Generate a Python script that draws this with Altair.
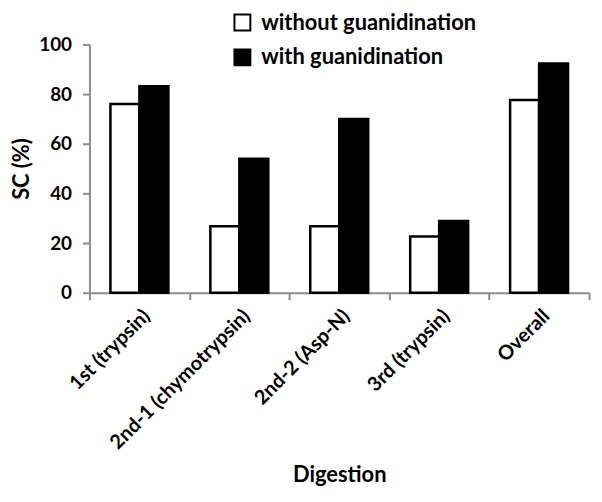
import altair as alt
import pandas as pd

categories = ["1st (trypsin)", "2nd-1 (chymotrypsin)", "2nd-2 (Asp-N)", "3rd (trypsin)", "Overall"]
series = ["without guanidination", "with guanidination"]
without_vals = [76, 26.8, 26.8, 22.6, 77.6]
with_vals = [83.2, 54, 70, 28.9, 92.3]
y_ticks = [0, 20, 40, 60, 80, 100]

rows = []
for c, a, b in zip(categories, without_vals, with_vals):
    rows.append({"Digestion": c, "series": series[0], "SC": a})
    rows.append({"Digestion": c, "series": series[1], "SC": b})
df = pd.DataFrame(rows)

FONT = "Lato"
GRAY = "#8c8c8c"

chart = alt.Chart(df).mark_bar(stroke="black", strokeWidth=2.5).encode(
    x=alt.X(
        "Digestion:N",
        sort=categories,
        scale=alt.Scale(paddingInner=0, paddingOuter=0),
        axis=alt.Axis(
            title="Digestion",
            labelAngle=-45,
            tickBand="extent",
            domainColor=GRAY,
            tickColor=GRAY,
            tickSize=7,
            domainWidth=2,
            tickWidth=2,
            labelFont=FONT,
            labelFontSize=20,
            labelFontWeight="bold",
            labelColor="black",
            labelPadding=6,
            labelLimit=400,
            titleFont=FONT,
            titleFontSize=22,
            titleFontWeight="bold",
            titleColor="black",
            titlePadding=12,
        ),
    ),
    xOffset=alt.XOffset("series:N", sort=series, scale=alt.Scale(paddingInner=0, paddingOuter=0.724)),
    y=alt.Y(
        "SC:Q",
        scale=alt.Scale(domain=[0, 100]),
        axis=alt.Axis(
            title="SC (%)",
            values=y_ticks,
            grid=False,
            domainColor=GRAY,
            tickColor=GRAY,
            domainWidth=2,
            tickWidth=2,
            tickSize=7,
            labelPadding=11,
            labelFont=FONT,
            labelFontSize=19,
            labelFontWeight="bold",
            labelColor="black",
            titleFont=FONT,
            titleFontSize=22,
            titleFontWeight="bold",
            titleColor="black",
            titlePadding=5,
        ),
    ),
    fill=alt.Fill(
        "series:N",
        sort=series,
        scale=alt.Scale(domain=series, range=["white", "black"]),
        legend=alt.Legend(
            title=None,
            orient="none",
            legendX=143,
            legendY=-33,
            symbolType="square",
            symbolSize=256,
            symbolStrokeColor="black",
            symbolStrokeWidth=2,
            labelFont=FONT,
            labelFontSize=22,
            labelFontWeight="bold",
            labelColor="black",
            labelLimit=400,
            rowPadding=11,
            labelOffset=8,
            padding=0,
        ),
    ),
).properties(
    width=503,
    height=250,
    padding={"left": 82, "top": 35, "right": 5, "bottom": 201},
    autosize="none",
).configure_view(stroke=None)

chart.save("out.html", embed_options={"renderer": "svg", "actions": False})
